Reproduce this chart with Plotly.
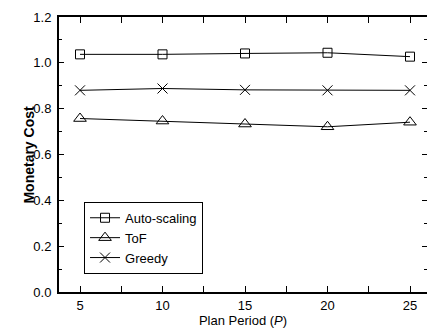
import plotly.graph_objects as go

periods = [5, 10, 15, 20, 25]
auto_scaling = [1.037, 1.037, 1.041, 1.044, 1.027]
tof = [0.757, 0.746, 0.733, 0.721, 0.741]
greedy = [0.880, 0.888, 0.882, 0.880, 0.880]

x_ticks = [5, 10, 15, 20, 25]
y_ticks = [0.0, 0.2, 0.4, 0.6, 0.8, 1.0, 1.2]
y_tick_labels = ["0.0", "0.2", "0.4", "0.6", "0.8", "1.0", "1.2"]

FONT = "Liberation Sans, Arial, sans-serif"

fig = go.Figure()
fig.add_trace(go.Scatter(x=periods, y=auto_scaling, name="Auto-scaling", mode="lines+markers",
                         line=dict(color="black", width=1),
                         marker=dict(symbol="square-open", size=9, color="black", line=dict(width=1))))
fig.add_trace(go.Scatter(x=periods, y=tof, name="ToF", mode="lines+markers",
                         line=dict(color="black", width=1),
                         marker=dict(symbol="triangle-up-open", size=11, color="black", line=dict(width=1))))
fig.add_trace(go.Scatter(x=periods, y=greedy, name="Greedy", mode="lines+markers",
                         line=dict(color="black", width=1),
                         marker=dict(symbol="x-thin-open", size=10, color="black", line=dict(width=1))))
# invisible trace to carry right-side ticks
fig.add_trace(go.Scatter(x=[periods[0]], y=[y_ticks[0]], yaxis="y2", mode="markers",
                         marker=dict(opacity=0), showlegend=False, hoverinfo="skip"))

fig.update_layout(
    width=427, height=333,
    margin=dict(l=59, r=0, t=17, b=41),
    paper_bgcolor="white", plot_bgcolor="white",
    font=dict(family=FONT, size=13, color="black"),
    showlegend=True,
    legend=dict(x=0.068, y=0.328, xanchor="left", yanchor="top",
                bordercolor="black", borderwidth=1, bgcolor="white",
                font=dict(size=13), tracegroupgap=0),
    xaxis=dict(range=[3.727, 26.03], tickvals=x_ticks, ticktext=[str(v) for v in x_ticks],
               ticks="inside", ticklen=6, tickwidth=1, tickcolor="black",
               showline=True, linecolor="black", linewidth=2, mirror="allticks",
               showgrid=False, zeroline=False,
               minor=dict(dtick=2.5, tick0=0, ticks="inside", ticklen=3, tickcolor="black", showgrid=False),
               title=dict(text="Plan Period (<i>P</i>)", font=dict(size=13), standoff=4)),
    yaxis=dict(range=[0, 1.2], tickvals=y_ticks, ticktext=y_tick_labels,
               ticks="inside", ticklen=5, tickwidth=1, tickcolor="black",
               showline=True, linecolor="black", linewidth=2, mirror=False,
               showgrid=False, zeroline=False, ticklabelstandoff=3,
               minor=dict(dtick=0.1, tick0=0, ticks="inside", ticklen=3, tickcolor="black", showgrid=False)),
    yaxis2=dict(range=[0, 1.2], overlaying="y", side="right", tickvals=y_ticks,
                showticklabels=False, ticks="inside", ticklen=5, tickcolor="black",
                showline=False, showgrid=False, zeroline=False,
                minor=dict(dtick=0.1, tick0=0, ticks="inside", ticklen=3, tickcolor="black", showgrid=False)),
    annotations=[dict(text="<b>Monetary Cost</b>", textangle=-90, xref="paper", yref="paper",
                      x=-0.084, y=0.5, xanchor="center", yanchor="middle", showarrow=False,
                      font=dict(size=14, family=FONT, color="black"))],
)

fig.write_html("out.html")
